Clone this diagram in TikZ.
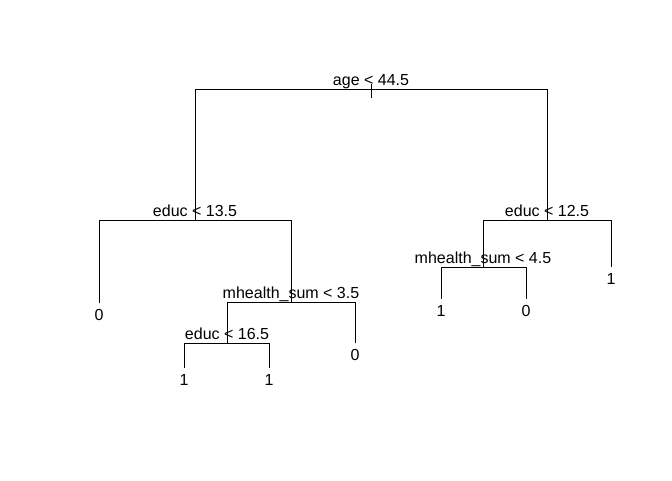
\documentclass[tikz,border=0pt]{standalone}
\usepackage{fontspec}
\setmainfont{Liberation Sans}
\usepackage{tikz}

\begin{document}
\begin{tikzpicture}[x=1pt, y=-1pt, line width=1pt,
	splitlab/.style={anchor=base, inner sep=0pt, yshift=3.5pt, font=\fontsize{16}{19}\selectfont},
	leaflab/.style={anchor=base, inner sep=0pt, yshift=-17pt, font=\fontsize{16}{19}\selectfont}]
			\useasboundingbox (0,0) rectangle (672,480);
			% split points
			\coordinate (n1) at (371,89);
			\coordinate (n2) at (195,220);
			\coordinate (n3) at (547,220);
			\coordinate (n5) at (291,302);
			\coordinate (n6) at (483,267);
			\coordinate (n10) at (227,343);
			% leaf ends
			\coordinate (l4) at (99,303);
			\coordinate (l20) at (184,368);
			\coordinate (l21) at (269,368);
			\coordinate (l11) at (355,343);
			\coordinate (l12) at (441,299);
			\coordinate (l13) at (526,299);
			\coordinate (l7) at (611,267);
			\coordinate (top) at (371,84);
			\coordinate (stub) at (371,98);
			
			\node (t1) at (n1) [splitlab] {age < 44.5};
			\node (t2) at (n2) [splitlab] {educ < 13.5};
			\node (t3) at (n3) [splitlab] {educ < 12.5};
			\node (t5) at (n5) [splitlab] {mhealth\_sum < 3.5};
			\node (t6) at (n6) [splitlab] {mhealth\_sum < 4.5};
			\node (t10) at (n10) [splitlab] {educ < 16.5};
			
			\node (v4) at (l4) [leaflab] {0};
			\node (v20) at (l20) [leaflab] {1};
			\node (v21) at (l21) [leaflab] {1};
			\node (v11) at (l11) [leaflab] {0};
			\node (v12) at (l12) [leaflab] {1};
			\node (v13) at (l13) [leaflab] {0};
			\node (v7) at (l7) [leaflab] {1};
			
			\draw (top)--(stub);
			\draw (n2) |- (n1);
			\draw (n3) |- (n1);
			\draw (l4) |- (n2);
			\draw (n5) |- (n2);
			\draw (n10) |- (n5);
			\draw (l11) |- (n5);
			\draw (l20) |- (n10);
			\draw (l21) |- (n10);
			\draw (n6) |- (n3);
			\draw (l7) |- (n3);
			\draw (l12) |- (n6);
			\draw (l13) |- (n6);
		\end{tikzpicture}
\end{document}
